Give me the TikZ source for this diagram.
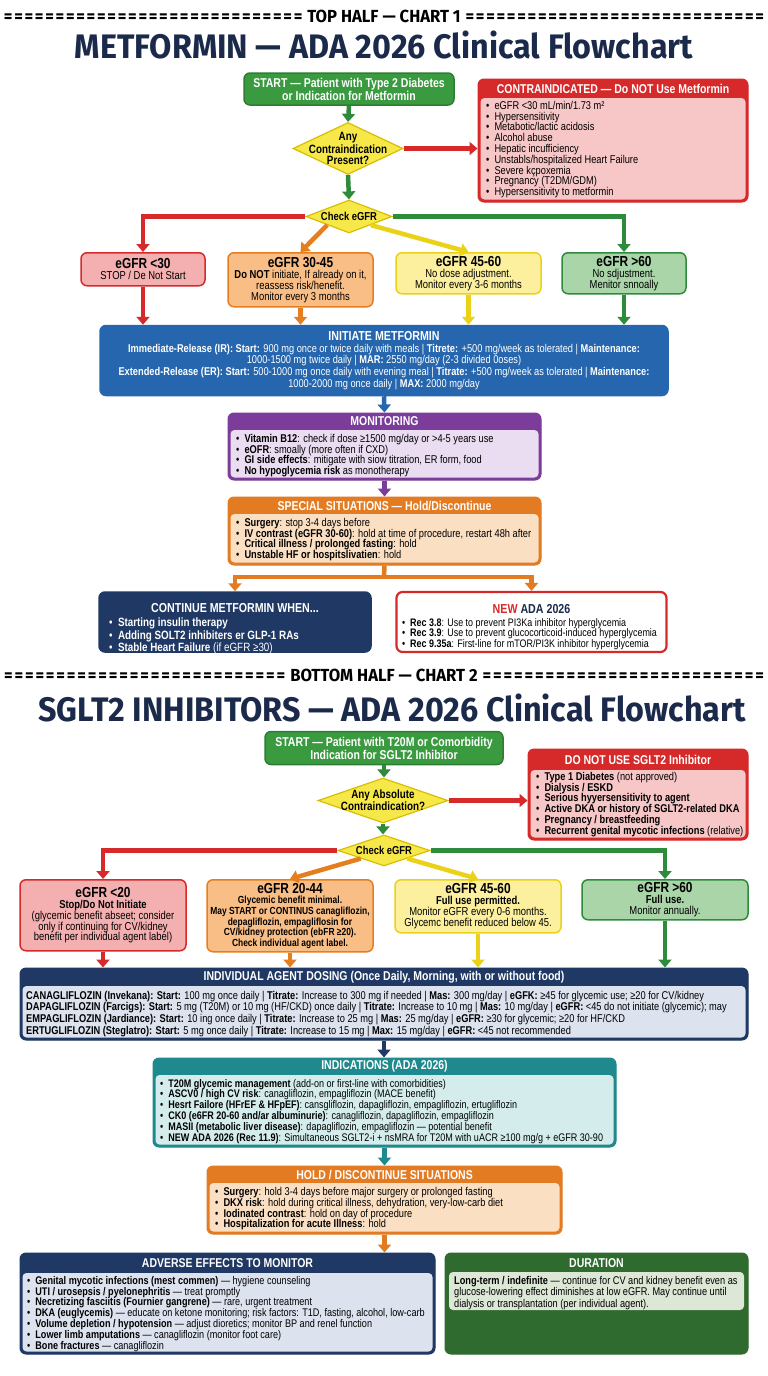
\documentclass[tikz,border=0pt]{standalone}
\usepackage{fontspec}
\setmainfont{Liberation Sans}[FakeStretch=0.82]
\newfontfamily\firafont{Fira Sans}[FakeStretch=0.95]
\usetikzlibrary{arrows.meta,shapes.geometric,calc}
\definecolor{navy}{HTML}{1B2A4A}
\definecolor{gr}{HTML}{3A9A40}
\definecolor{grD}{HTML}{2E7D32}
\definecolor{grA}{HTML}{2E8B3C}
\definecolor{rd}{HTML}{D62A2A}
\definecolor{pinkb}{HTML}{F7C6C6}
\definecolor{yl}{HTML}{F7E84A}
\definecolor{ylD}{HTML}{D9BE00}
\definecolor{ylA}{HTML}{EBD218}
\definecolor{orA}{HTML}{E57E1E}
\definecolor{orbox}{HTML}{F9BE85}
\definecolor{ylbox}{HTML}{FCF09E}
\definecolor{grbox}{HTML}{A9D5A9}
\definecolor{rdbox}{HTML}{F4B0B0}
\definecolor{blu}{HTML}{2566AE}
\definecolor{pur}{HTML}{7B3C9A}
\definecolor{purb}{HTML}{EADCF1}
\definecolor{orH}{HTML}{E27B22}
\definecolor{orb}{HTML}{FBDFC2}
\definecolor{nvy}{HTML}{1F3864}
\definecolor{nvyb}{HTML}{DCE2EE}
\definecolor{tl}{HTML}{1F8A8D}
\definecolor{tlb}{HTML}{D4ECEC}
\definecolor{dg}{HTML}{2F6A2F}
\definecolor{dgb}{HTML}{DDE7D6}
\newcommand{\bu}{\textbullet\hspace{0.45em}}
\newcommand{\ehead}{\bfseries\fontsize{14.5}{15}\selectfont}
\newcommand{\eqfill}{\xleaders\hbox{\kern0.8pt=\kern0.8pt}\hfill}
% name, x1, y1, x2, y2, header height, header colour, body colour, title
\newcommand{\panel}[9]{%
 \pgfmathsetmacro\pw{#4-#2}%
 \pgfmathsetmacro\ph{#5-#3}%
 \pgfmathsetmacro\pcx{(#2+#4)/2}%
 \pgfmathsetmacro\pcy{(#3+#5)/2}%
 \node[pshape, fill=#7, draw=#7, minimum width=\pw pt, minimum height=\ph pt] (#1) at ({\pcx},{\pcy}) {};%
 \pgfmathsetmacro\bw{#4-#2-5}%
 \pgfmathsetmacro\bh{#5-#3-#6-2.5}%
 \pgfmathsetmacro\bcy{(#3+#6+#5-2.5)/2}%
 \node[bshape, fill=#8, minimum width=\bw pt, minimum height=\bh pt] (#1-body) at ({\pcx},{\bcy}) {};%
 \node[htext] (#1-title) at ({\pcx},{#3+#6/2}) {#9};%
}
\begin{document}
\begin{tikzpicture}[x=1pt,y=-1pt,
 arr/.style={line width=4.5pt,-{Triangle[width=13pt,length=8pt]}},
 ln/.style={line width=4.5pt},
 bx/.style={rounded corners=6pt, inner sep=0pt, line width=1.5pt, align=center},
 pshape/.style={rounded corners=6pt, inner sep=0pt, line width=1pt},
 bshape/.style={rounded corners=4pt, inner sep=0pt},
 htext/.style={text=white, font=\bfseries\fontsize{12.8}{13}\selectfont, inner sep=0pt},
 btext/.style={align=left, inner sep=0pt, anchor=north west, font=\fontsize{11.3}{10.8}\selectfont},
 dia/.style={diamond, fill=yl, draw=ylD, line width=1.2pt, inner sep=0pt},
 diatext/.style={align=center, inner sep=0pt, font=\bfseries\fontsize{12}{11}\selectfont},
 startbox/.style={bx, fill=gr, draw=grD, text=white, font=\bfseries\fontsize{12.8}{13}\selectfont},
 ebox/.style={bx, anchor=north, font=\fontsize{11.5}{11}\selectfont},
 fbox/.style={bx, anchor=north, font=\fontsize{11.5}{10.9}\selectfont},
 sec/.style={inner sep=0pt, font=\firafont\bfseries\fontsize{17.5}{19}\selectfont, text=black},
 ttl/.style={inner sep=0pt, text=navy, font=\firafont\bfseries\fontsize{34}{36}\selectfont}
]
\fill[white] (0,0) rectangle (768,1376);
\useasboundingbox (0,0) rectangle (768,1376);

% ================= CHART 1 =================
\node[sec] (h1) at (384,16) {\hbox to 762pt{\eqfill\ TOP HALF — CHART 1\ \eqfill}};
\node[ttl] (t1) at (384,45) {METFORMIN — ADA 2026 Clinical Flowchart};

\node[startbox, minimum width=210pt, minimum height=32pt] (s1) at (349,89) {START — Patient with Type 2 Diabetes\\or Indication for Metformin};

\node[dia, minimum width=110pt, minimum height=52pt] (d1) at (348,148.5) {};
\node[diatext] (d1-text) at (d1.center) {Any\\Contraindication\\Present?};

\panel{ci}{478}{79}{748}{202}{19}{rd}{pinkb}{CONTRAINDICATED — Do NOT Use Metformin}
\node[btext] (ci-text) at (486,101) {\bu eGFR <30 mL/min/1.73 m²\\
\bu Hypersensitivity\\
\bu Metabotic/lactic acidosis\\
\bu Alcohol abuse\\
\bu Hepatic incufficiency\\
\bu Unstabls/hospitalized Heart Failure\\
\bu Severe kçpoxemia\\
\bu Pregnancy (T2DM/GDM)\\
\bu Hypersensitivity to metformin};

\draw[arr, grA] (s1.south) -- (d1.north);
\draw[arr, rd] (d1.east) -- (d1.east -| ci.west);

\node[dia, minimum width=86pt, minimum height=33pt] (c1) at (349,216.5) {};
\node[diatext, font=\bfseries\fontsize{11.5}{11}\selectfont] (c1-text) at (c1.center) {Check eGFR};
\draw[arr, grA] (d1.south) -- (c1.north);

\node[ebox, fill=rdbox, draw=rd, minimum width=124pt, minimum height=33pt] (e1) at (143,252) {{\ehead eGFR <30}\\STOP / De Not Start};
\node[ebox, fill=orbox, draw=orA, minimum width=145pt, minimum height=54pt] (e2) at (300.5,252) {{\ehead eGFR 30-45}\\\textbf{Do NOT} initiate, If already on it,\\reassess risk/henefit.\\Monitor every 3 months};
\node[ebox, fill=ylbox, draw=ylA, minimum width=145pt, minimum height=41pt] (e3) at (468.5,252) {{\ehead eGFR 45-60}\\No dose adjustment.\\Monitor every 3-6 months};
\node[ebox, fill=grbox, draw=grA, minimum width=124pt, minimum height=41pt] (e4) at (624,252) {{\ehead eGFR >60}\\No sdjustment.\\Menitor snnoally};

\draw[arr, rd] (c1.west) -| (e1.north);
\draw[arr, orA] (c1.south west) -- (e2.north);
\draw[arr, ylA] (c1.south east) -- (e3.north);
\draw[arr, grA] (c1.east) -| (e4.north);

\node[bx, fill=blu, draw=blu, text=white, minimum width=568pt, minimum height=70pt, font=\fontsize{11.3}{11.6}\selectfont] (init) at (384,360.5) {{\bfseries\fontsize{13}{14}\selectfont INITIATE METFORMIN}\\
\textbf{Immediate-Release (IR): Start:} 900 mg once or twice daily with meals | \textbf{Titrete:} +500 mg/week as tolerated | \textbf{Maintenance:}\\
1000-1500 mg twice daily | \textbf{MAR:} 2550 mg/day (2-3 divided 0oses)\\
\textbf{Extended-Release (ER): Start:} 500-1000 mg once daily with evening meal | \textbf{Titrate:} +500 mg/week as tolerated | \textbf{Maintenance:}\\
1000-2000 mg once daily | \textbf{MAX:} 2000 mg/day};

\draw[arr, rd] (e1.south) -- (e1.south |- init.north);
\draw[arr, orA] (e2.south) -- (e2.south |- init.north);
\draw[arr, ylA] (e3.south) -- (e3.south |- init.north);
\draw[arr, grA] (e4.south) -- (e4.south |- init.north);

\panel{mon}{228}{413}{541}{480}{17}{pur}{purb}{MONITORING}
\node[btext] (mon-text) at (236,434) {\bu\textbf{Vitamin B12}: check if dose ≥1500 mg/day or >4-5 years use\\
\bu\textbf{eOFR}: smoally (more often if CXD)\\
\bu\textbf{GI side effects}: mitigate with siow titration, ER form, food\\
\bu\textbf{No hypoglycemia risk} as monotherapy};
\draw[arr, blu] (init.south) -- (mon.north);

\panel{sp}{228}{497}{541}{565}{17}{orH}{orb}{SPECIAL SITUATIONS — Hold/Discontinue}
\node[btext] (sp-text) at (236,518) {\bu\textbf{Surgery}: stop 3-4 days before\\
\bu\textbf{IV contrast (eGFR 30-60)}: hold at time of procedure, restart 48h after\\
\bu\textbf{Critical illness / prolonged fasting}: hold\\
\bu\textbf{Unstable HF or hospitslivatien}: hold};
\draw[arr, pur] (mon.south) -- (sp.north);

\node[bx, fill=nvy, draw=nvy, minimum width=272pt, minimum height=60pt] (cont) at (235,622) {};
\node[htext, font=\bfseries\fontsize{13}{14}\selectfont] (cont-title) at (235,608) {CONTINUE METFORMIN WHEN...};
\node[btext, text=white, font=\fontsize{12}{10.8}\selectfont] (cont-text) at (109,618) {\bu\textbf{Starting insulin therapy}\\
\bu\textbf{Adding SOLT2 inhibiters er GLP-1 RAs}\\
\bu\textbf{Stable Heart Failure} (if eGFR ≥30)};

\node[bx, fill=white, draw=rd, line width=2.2pt, minimum width=270pt, minimum height=60pt] (newada) at (531.5,622) {};
\node[inner sep=0pt, font=\bfseries\fontsize{13}{14}\selectfont, text=navy] (newada-title) at (531.5,609) {\textcolor{rd}{NEW} ADA 2026};
\node[btext, font=\fontsize{10.9}{10.8}\selectfont] (newada-text) at (402,618) {\bu\textbf{Rec 3.8}: Use to prevent PI3Ka inhibitor hyperglycemia\\
\bu\textbf{Rec 3.9}: Use to prevent glucocorticoid-induced hyperglycemia\\
\bu\textbf{Rec 9.35a}: First-line for mTOR/PI3K inhibitor hyperglycemia};

\coordinate (spj) at (384,577);
\draw[ln, orH] (sp.south) -- (spj);
\draw[arr, orH] (spj) -| (cont.north);
\draw[arr, orH] (spj) -| (newada.north);

% ================= CHART 2 =================
\node[sec] (h2) at (384,675) {\hbox to 762pt{\eqfill\ BOTTOM HALF — CHART 2\ \eqfill}};
\node[ttl] (t2) at (392,708) {SGLT2 INHIBITORS — ADA 2026 Clinical Flowchart};

\node[startbox, minimum width=238pt, minimum height=33pt] (s2) at (384,748) {START — Patient with T20M or Comorbidity\\Indication for SGLT2 Inhibitor};

\node[dia, minimum width=130pt, minimum height=45pt] (d2) at (383,800.5) {};
\node[diatext] (d2-text) at (d2.center) {Any Absolute\\Contraindication?};
\draw[arr, grA] (s2.south) -- (s2.south |- d2.north);

\panel{dn}{528}{749}{748}{840}{21}{rd}{pinkb}{DO NOT USE SGLT2 Inhibitor}
\node[btext] (dn-text) at (536,772) {\bu\textbf{Type 1 Diabetes} (not approved)\\
\bu\textbf{Dialysis / ESKD}\\
\bu\textbf{Serious hyyersensitivity to agent}\\
\bu\textbf{Active DKA or history of SGLT2-related DKA}\\
\bu\textbf{Pregnancy / breastfeeding}\\
\bu\textbf{Recurrent genital mycotic infections} (relative)};
\draw[arr, rd] (d2.east) -- (d2.east -| dn.west);

\node[dia, minimum width=92pt, minimum height=31pt] (c2) at (384,850.5) {};
\node[diatext, font=\bfseries\fontsize{11.5}{11}\selectfont] (c2-text) at (c2.center) {Check eGFR};
\draw[arr, grA] (d2.south) -- (d2.south |- c2.north);

\node[fbox, fill=rdbox, draw=rd, minimum width=166pt, minimum height=71pt] (f1) at (103,879) {{\ehead eGFR <20}\\\textbf{Stop/Do Not Initiate}\\(glycemic benefit abseet; consider\\only if continuing for CV/kidney\\benefit per individual agent label)};
\node[fbox, fill=orbox, draw=orA, minimum width=166pt, minimum height=72pt, font=\fontsize{10.3}{10.6}\selectfont] (f2) at (290,879) {{\ehead eGFR 20-44}\\\bfseries Glycemic benefit minimal.\\\bfseries May START or CONTINUS canagliflozin,\\\bfseries depagliflozin, empagliflosin for\\\bfseries CV/kidney protection (ebFR ≥20).\\\bfseries Check individual agent label.};
\node[fbox, fill=ylbox, draw=ylA, minimum width=166pt, minimum height=53pt] (f3) at (478,879) {{\ehead eGFR 45-60}\\\textbf{Full use permitted.}\\Monitor eGFR every 0-6 months.\\Glycemc benefit reduced below 45.};
\node[fbox, fill=grbox, draw=grA, minimum width=166pt, minimum height=40pt] (f4) at (665,879) {{\ehead eGFR >60}\\\textbf{Full use.}\\Monitor annually.};

\draw[arr, rd] (c2.west) -| (f1.north);
\draw[arr, orA] (c2.south west) -- (f2.north);
\draw[arr, ylA] (c2.south east) -- (f3.north);
\draw[arr, grA] (c2.east) -| (f4.north);

\panel{dose}{20}{968}{748}{1040}{18}{nvy}{nvyb}{INDIVIDUAL AGENT DOSING (Once Daily, Morning, with or without food)}
\node[btext, font=\fontsize{11.3}{10.4}\selectfont] (dose-text) at (26,991) {\textbf{CANAGLIFLOZIN (Invekana): Start:} 100 mg once daily | \textbf{Titrate:} Increase to 300 mg if needed | \textbf{Mas:} 300 mg/day | \textbf{eGFK:} ≥45 for glycemic use; ≥20 for CV/kidney\\
\textbf{DAPAGLIFLOZIN (Farcigs): Start:} 5 mg (T20M) or 10 mg (HF/CKD) once daily | \textbf{Titrate:} Increase to 10 mg | \textbf{Mas:} 10 mg/day | \textbf{eGFR:} <45 do not initiate (glycemic); may\\
\textbf{EMPAGLIFLOZIN (Jardiance): Start:} 10 ing once daily | \textbf{Titrate:} Increase to 25 mg | \textbf{Mas:} 25 mg/day | \textbf{eGFR:} ≥30 for glycemic; ≥20 for HF/CKD\\
\textbf{ERTUGLIFLOZIN (Steglatro): Start:} 5 mg once daily | \textbf{Titrate:} Increase to 15 mg | \textbf{Max:} 15 mg/day | \textbf{eGFR:} <45 not recommended};

\draw[arr, rd] (f1.south) -- (f1.south |- dose.north);
\draw[arr, orA] (f2.south) -- (f2.south |- dose.north);
\draw[arr, ylA] (f3.south) -- (f3.south |- dose.north);
\draw[arr, grA] (f4.south) -- (f4.south |- dose.north);

\panel{ind}{153}{1058}{616}{1147}{17}{tl}{tlb}{INDICATIONS (ADA 2026)}
\node[btext, font=\fontsize{11}{10.8}\selectfont] (ind-text) at (160,1079) {\bu\textbf{T20M glycemic management} (add-on or first-line with comorbidities)\\
\bu\textbf{ASCV0 / high CV risk}: canagliflozin, empagliflozin (MACE benefit)\\
\bu\textbf{Hesrt Failore (HFrEF \& HFpEF)}: cansgliflozin, dapagliflozin, empagliflozin, ertugliflozin\\
\bu\textbf{CK0 (e6FR 20-60 and/ar albuminurie)}: canagliflozin, dapagliflozin, empagliflozin\\
\bu\textbf{MASII (metabolic liver disease)}: dapagliflozin, empagliflozin — potential benefit\\
\bu\textbf{NEW ADA 2026 (Rec 11.9)}: Simultaneous SGLT2-i + nsMRA for T20M with uACR ≥100 mg/g + eGFR 30-90};
\draw[arr, nvy] (dose.south) -- (dose.south |- ind.north);

\panel{hold}{207}{1166}{562}{1234}{17}{orH}{orb}{HOLD / DISCONTINUE SITUATIONS}
\node[btext] (hold-text) at (215,1187) {\bu\textbf{Surgery}: hold 3-4 days before major surgery or prolonged fasting\\
\bu\textbf{DKX risk}: hold during critical illness, dehydration, very-low-carb diet\\
\bu\textbf{Iodinated contrast}: hold on day of procedure\\
\bu\textbf{Hospitalization for acute Illness}: hold};
\draw[arr, tl] (ind.south) -- (ind.south |- hold.north);

\panel{ae}{20}{1253}{435}{1354}{20}{nvy}{nvyb}{ADVERSE EFFECTS TO MONITOR}
\node[btext, font=\fontsize{11.1}{10.8}\selectfont] (ae-text) at (27,1276) {\bu\textbf{Genital mycotic infections (mest commen)} — hygiene counseling\\
\bu\textbf{UTI / urosepsis / pyelonephritis} — treat promptly\\
\bu\textbf{Necretizing fasciitis (Fournier gangrene)} — rare, urgent treatment\\
\bu\textbf{DKA (euglycemis)} — educate on ketone monitoring; risk factors: T1D, fasting, alcohol, low-carb\\
\bu\textbf{Volume depletion / hypotension} — adjust dioretics; monitor BP and renel function\\
\bu\textbf{Lower limb amputations} — canagliflozin (monitor foot care)\\
\bu\textbf{Bone fractures} — canagliflozin};
\draw[arr, orH] (hold.south) -- (hold.south |- ae.north);

\node[pshape, fill=dg, draw=dg, minimum width=303pt, minimum height=101pt] (dur) at (596.5,1303.5) {};
\node[bshape, fill=dgb, minimum width=295pt, minimum height=38pt] (dur-body) at (596.5,1291) {};
\node[htext] (dur-title) at (596.5,1263) {DURATION};
\node[btext, font=\fontsize{11.2}{10.3}\selectfont] (dur-text) at (454,1276) {\textbf{Long-term / indefinite} — continue for CV and kidney benefit even as\\glucose-lowering effect diminishes at low eGFR. May continue until\\dialysis or transplantation (per individual agent).};
\end{tikzpicture}
\end{document}
